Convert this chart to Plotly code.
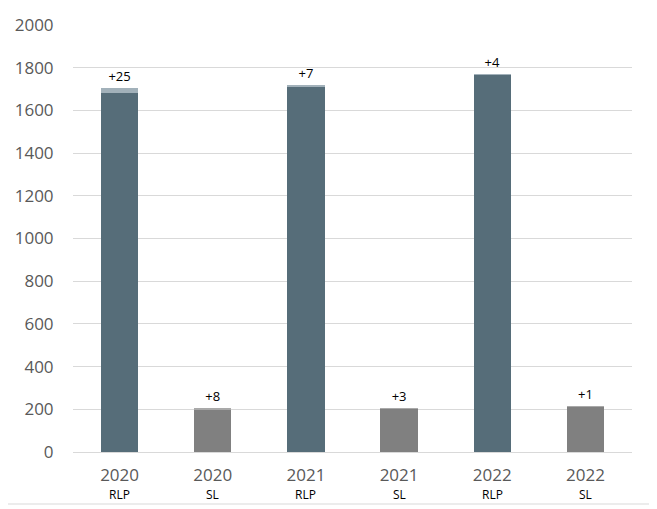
import plotly.graph_objects as go

categories = ["2020 RLP", "2020 SL", "2021 RLP", "2021 SL", "2022 RLP", "2022 SL"]
years = ["2020", "2020", "2021", "2021", "2022", "2022"]
groups = ["RLP", "SL", "RLP", "SL", "RLP", "SL"]
base_values = [1680, 200, 1712, 202, 1766, 214]
increase_values = [25, 8, 7, 3, 4, 1]
increase_labels = ["+25", "+8", "+7", "+3", "+4", "+1"]

base_colors = ["#566d79" if g == "RLP" else "#808080" for g in groups]
incr_colors = ["#a2b1ba" if g == "RLP" else "#a9a9a9" for g in groups]

PLOT_W = 559
PLOT_H = 427

fig = go.Figure()

fig.add_trace(go.Bar(
    x=categories,
    y=base_values,
    marker=dict(color=base_colors, line=dict(width=0)),
    hoverinfo="skip",
))

fig.add_trace(go.Bar(
    x=categories,
    y=increase_values,
    marker=dict(color=incr_colors, line=dict(width=0)),
    text=increase_labels,
    textposition="outside",
    cliponaxis=False,
    textfont=dict(size=13, color="#000000"),
    hoverinfo="skip",
))

# second line of the category labels (RLP / SL)
for cat, g in zip(categories, groups):
    fig.add_annotation(
        x=cat, y=-42.5 / PLOT_H, xref="x", yref="paper",
        text=g, showarrow=False, yanchor="middle",
        font=dict(size=12, color="#000000"),
    )

# page body has an 8px margin, so margins are shifted to line up with the reference
fig.update_layout(
    barmode="stack",
    bargap=0.6,
    showlegend=False,
    width=657,
    height=509,
    margin=dict(l=65, r=33, t=17, b=65),
    paper_bgcolor="white",
    plot_bgcolor="white",
    font=dict(family="Open Sans, DejaVu Sans, sans-serif", color="#595959"),
    shapes=[
        # outer chart border (right and bottom edges inside the svg)
        dict(type="line", xref="paper", yref="paper",
             x0=581 / PLOT_W, x1=581 / PLOT_W, y0=-52 / PLOT_H, y1=1 + 17 / PLOT_H,
             line=dict(color="#d9d9d9", width=1)),
        dict(type="line", xref="paper", yref="paper",
             x0=-65 / PLOT_W, x1=581 / PLOT_W, y0=-52 / PLOT_H, y1=-52 / PLOT_H,
             line=dict(color="#d9d9d9", width=1)),
    ],
)

fig.update_xaxes(
    tickmode="array",
    tickvals=categories,
    ticktext=years,
    tickfont=dict(size=17, color="#595959"),
    showline=True,
    linecolor="#d9d9d9",
    linewidth=1,
    ticks="outside",
    ticklen=8,
    tickcolor="white",
    automargin=False,
)

fig.update_yaxes(
    range=[0, 2000],
    dtick=200,
    tickfont=dict(size=17, color="#595959"),
    gridcolor="#d9d9d9",
    gridwidth=1,
    zeroline=False,
    ticks="outside",
    ticklen=15,
    tickcolor="white",
    automargin=False,
)

fig.write_html("out.html")
